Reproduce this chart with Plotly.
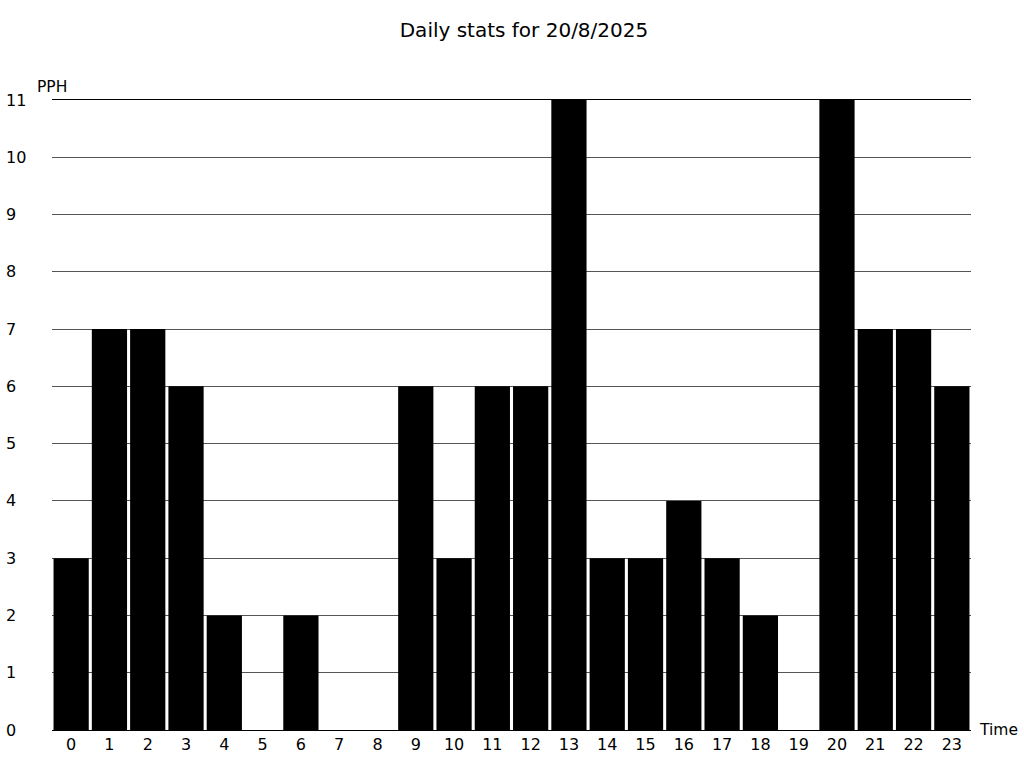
import plotly.graph_objects as go

# hourly PPH values
hours = [str(h) for h in range(24)]
pph = [3, 7, 7, 6, 2, 0, 2, 0, 0, 6, 3, 6, 6, 11, 3, 3, 4, 3, 2, 0, 11, 7, 7, 6]
y_ticks = list(range(0, 12))

title = "Daily stats for 20/8/2025"
FONT = "DejaVu Sans"

fig = go.Figure()
fig.add_trace(go.Bar(x=hours, y=pph, marker=dict(color="black", line=dict(width=0))))

# y tick labels are left-aligned in the reference, so draw them as annotations
for v in y_ticks:
    fig.add_annotation(x=0, xref="paper", y=v, yref="y", text=str(v),
                       showarrow=False, xanchor="left", yanchor="middle",
                       xshift=-48, font=dict(size=16, color="black", family=FONT))

fig.add_annotation(x=0, xref="paper", y=1, yref="paper", text="PPH",
                   showarrow=False, xanchor="left", yanchor="bottom",
                   xshift=-17, yshift=2, font=dict(size=15.5, color="black", family=FONT))
fig.add_annotation(x=1, xref="paper", y=0, yref="y", text="Time",
                   showarrow=False, xanchor="left", yanchor="middle",
                   xshift=6, font=dict(size=15.5, color="black", family=FONT))

fig.update_layout(
    title=dict(text=title, x=0.5117, xanchor="center", y=0.961, yanchor="middle",
               font=dict(size=20, color="black", family=FONT)),
    paper_bgcolor="white",
    plot_bgcolor="white",
    font=dict(family=FONT, size=16, color="black"),
    width=1024, height=768,
    margin=dict(l=52, r=53, t=100, b=38),
    bargap=0.08,
    showlegend=False,
    xaxis=dict(type="category", showgrid=False, showline=True, mirror=True,
               linecolor="black", linewidth=1, ticks="", tickfont=dict(size=16)),
    yaxis=dict(range=[0, 11], dtick=1, showgrid=True, gridcolor="#555",
               gridwidth=1, showticklabels=False, zeroline=False, ticks=""),
)

# drop the default body margin so the figure sits at the window's corner
fig.write_html("out.html", config={"displayModeBar": False},
               post_script="document.body.style.margin='0';")
